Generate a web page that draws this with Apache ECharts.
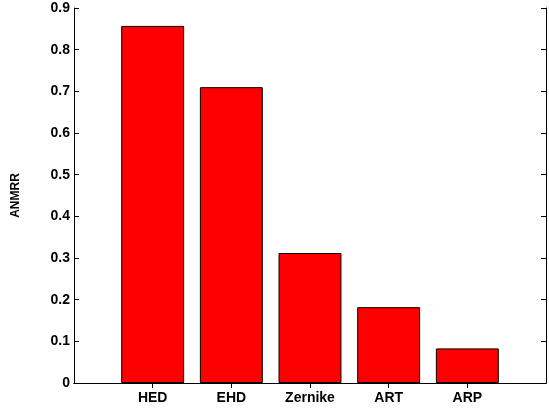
<!DOCTYPE html>
<html>
<head>
<meta charset="utf-8">
<script src="https://cdn.jsdelivr.net/npm/echarts@6/dist/echarts.min.js"></script>
<style>
html, body { margin: 0; padding: 0; background: #fff; }
#main { width: 549px; height: 409px; }
</style>
</head>
<body>
<div id="main"></div>
<script>
// empty slots at both ends give the 0..6 range with bars at 1..5
var categories = ['', 'HED', 'EHD', 'Zernike', 'ART', 'ARP', ''];
var anmrr = ['-', 0.857, 0.710, 0.312, 0.182, 0.083, '-'];
var yTicks = [0, 0.1, 0.2, 0.3, 0.4, 0.5, 0.6, 0.7, 0.8, 0.9];

var font = 'Liberation Sans, Arial, sans-serif';
var inner = function (i) { return i > 0 && i < categories.length - 1; };

var myChart = echarts.init(document.getElementById('main'));
option = {
	animation : false,
	grid : {
		left : 74,
		right : 1,
		top : 8,
		bottom : 26
	},
	xAxis : [ {
		type : 'category',
		boundaryGap : false,
		data : categories,
		axisLine : { lineStyle : { color : '#000', width : 1 } },
		axisTick : { inside : true, length : 5, interval : inner, lineStyle : { color : '#000' } },
		axisLabel : { interval : 0, color : '#000', fontFamily : font, fontWeight : 'bold', fontSize : 14, margin : 8 },
		splitLine : { show : false }
	}, {
		type : 'category',
		position : 'top',
		boundaryGap : false,
		data : categories,
		axisLine : { lineStyle : { color : '#000', width : 1 } },
		axisTick : { inside : true, length : 5, interval : inner, lineStyle : { color : '#000' } },
		axisLabel : { show : false },
		splitLine : { show : false }
	} ],
	yAxis : [ {
		type : 'value',
		min : 0,
		max : yTicks[yTicks.length - 1],
		interval : 0.1,
		name : 'ANMRR',
		nameLocation : 'middle',
		nameGap : 52,
		nameTextStyle : { color : '#000', fontFamily : font, fontWeight : 'bold', fontSize : 12 },
		axisLine : { show : true, lineStyle : { color : '#000', width : 1 } },
		axisTick : { show : true, inside : true, length : 5, lineStyle : { color : '#000' } },
		axisLabel : {
			color : '#000', fontFamily : font, fontWeight : 'bold', fontSize : 14, margin : 4,
			formatter : function (v) { return +v.toFixed(1) + ''; }
		},
		splitLine : { show : false }
	}, {
		type : 'value',
		position : 'right',
		min : 0,
		max : yTicks[yTicks.length - 1],
		interval : 0.1,
		axisLine : { show : true, lineStyle : { color : '#000', width : 1 } },
		axisTick : { show : true, inside : true, length : 5, lineStyle : { color : '#000' } },
		axisLabel : { show : false },
		splitLine : { show : false }
	} ],
	series : [ {
		name : 'ANMRR',
		type : 'bar',
		barWidth : '80%',
		data : anmrr,
		itemStyle : { color : '#ff0000', borderColor : '#000', borderWidth : 1 }
	} ]
};
myChart.setOption(option);
</script>
</body>
</html>
